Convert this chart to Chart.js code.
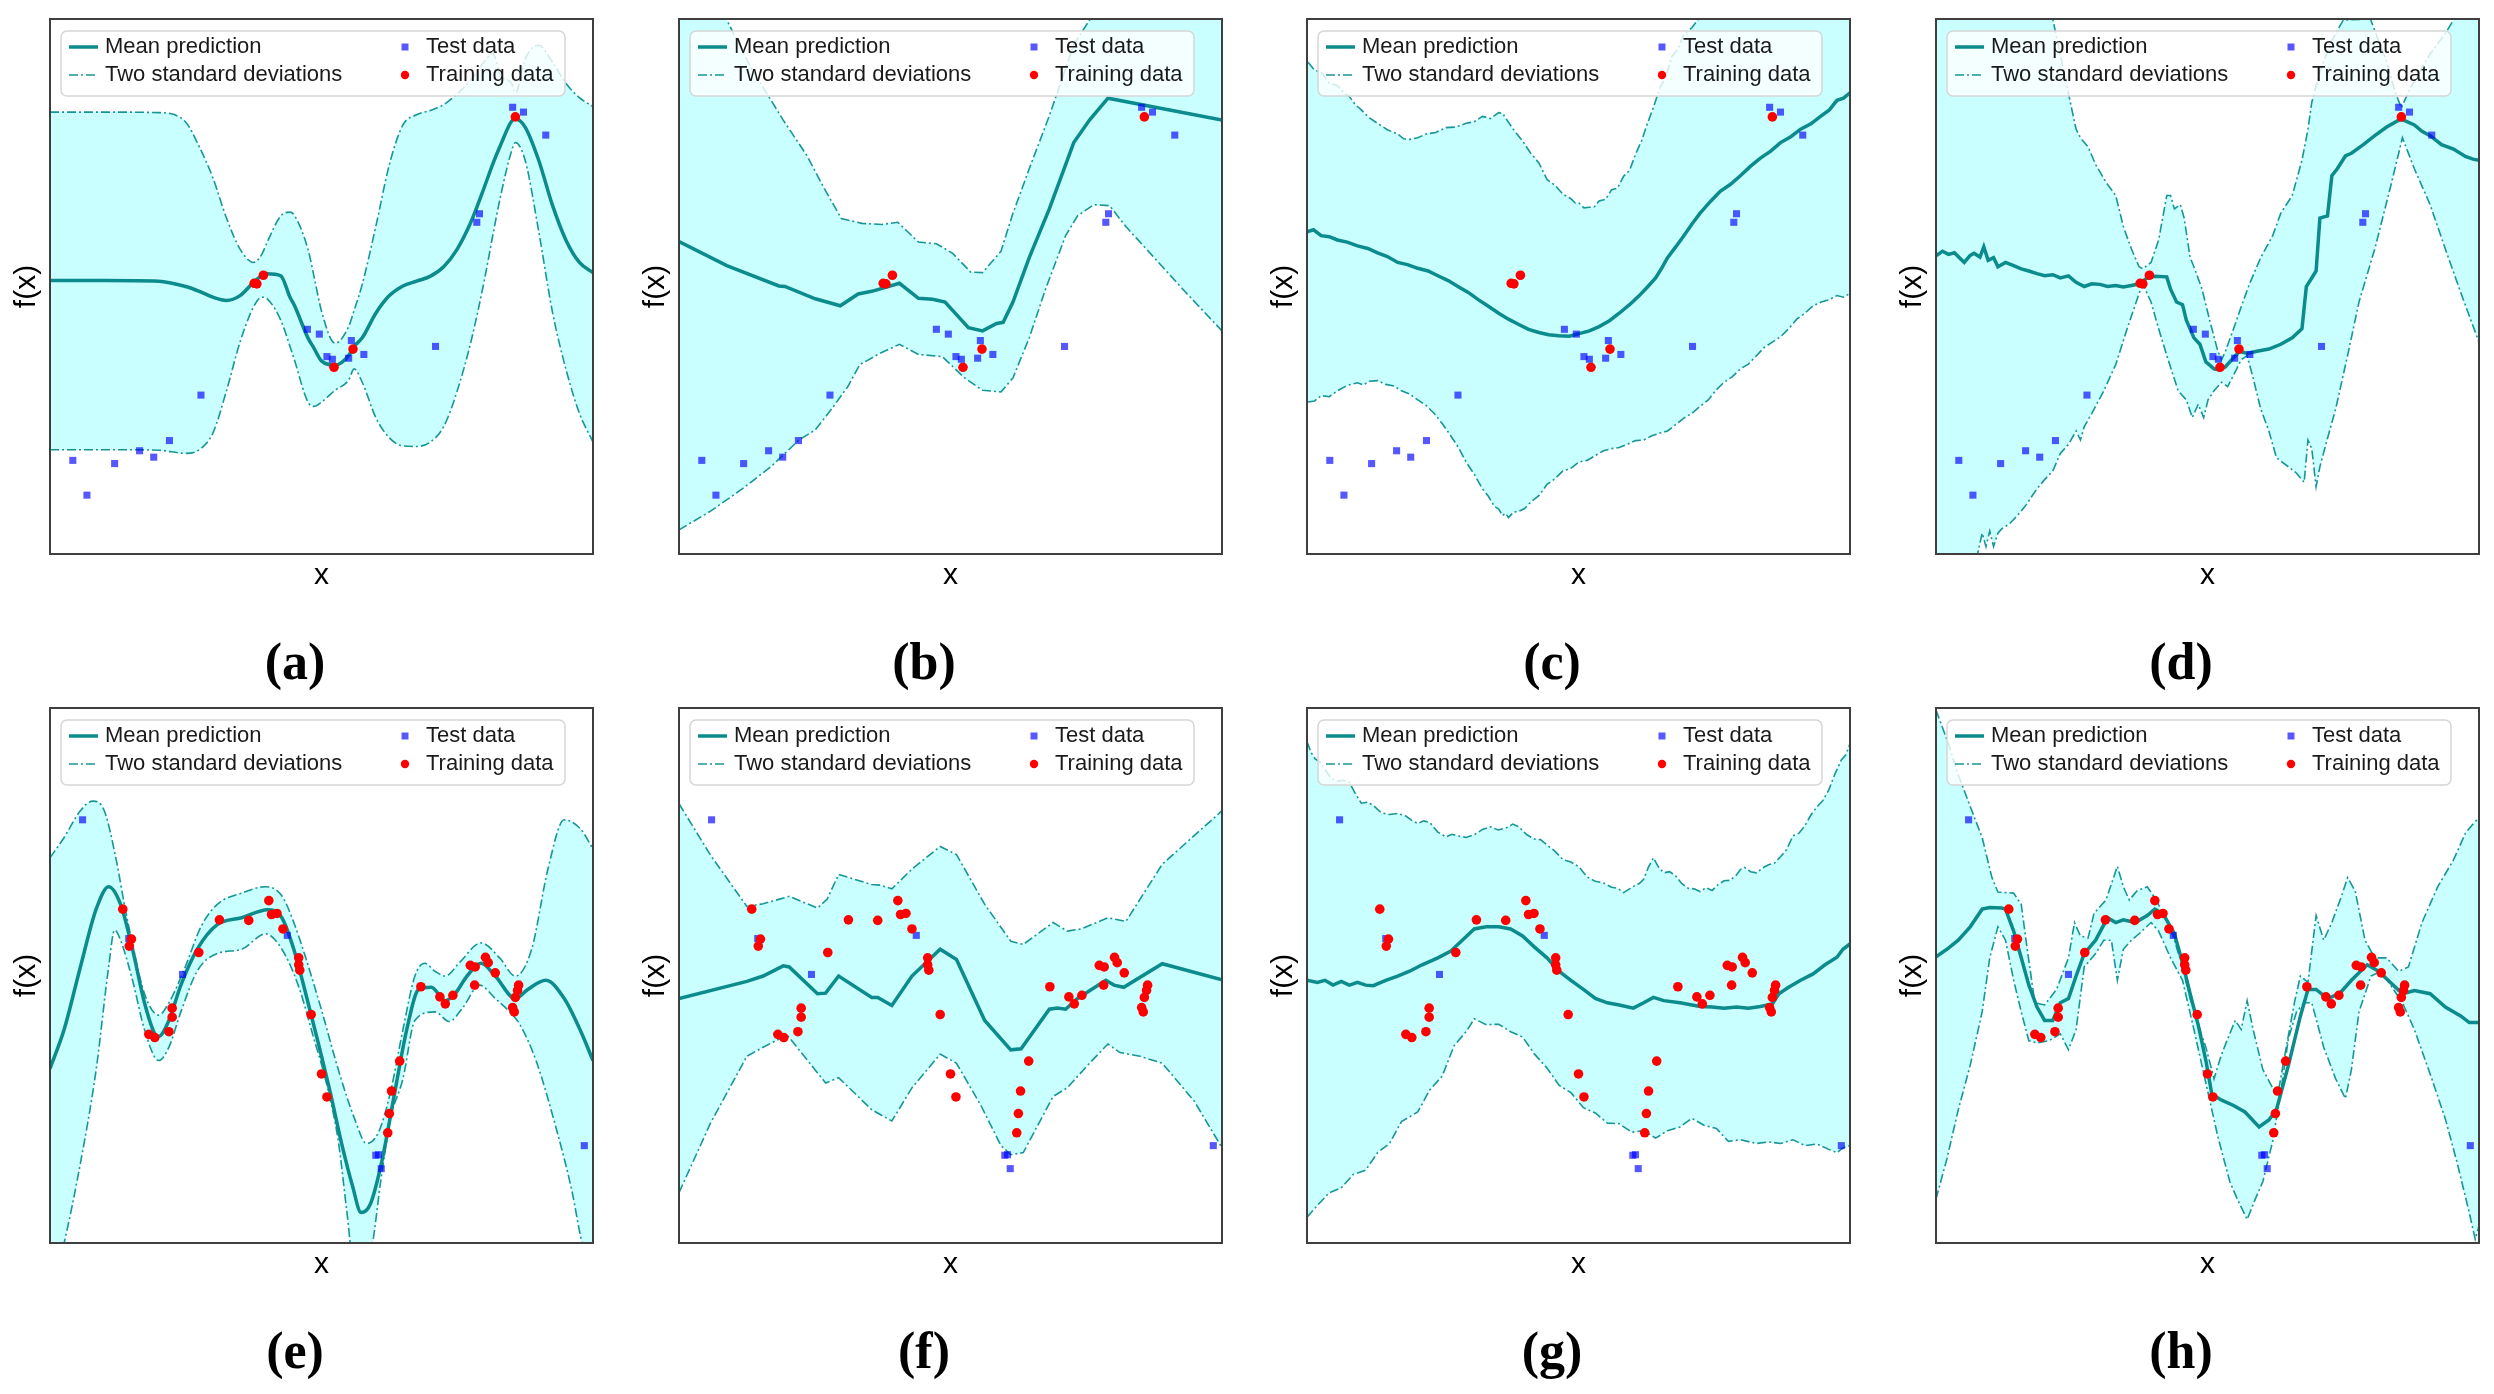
<!DOCTYPE html>
<html>
<head>
<meta charset="utf-8">
<script src="https://cdn.jsdelivr.net/npm/chart.js@4.4.1/dist/chart.umd.min.js"></script>
<style>
html,body{margin:0;padding:0;background:#fff;}
#root{position:relative;width:2494px;height:1394px;overflow:hidden;background:#fff;}
.panel{position:absolute;}
.lbl{position:absolute;font:bold 52px "Liberation Serif","Times New Roman",serif;color:#000;transform:translate(-50%,-50%);white-space:nowrap;line-height:1;}
</style>
</head>
<body>
<div id="root"></div>
<script>
// ---------------- DATA (x and f(x) in plot units 0..100) ----------------
const panelLetters = ['a','b','c','d','e','f','g','h'];
const legendLabels = ['Mean prediction','Two standard deviations','Test data','Training data'];

// shared observations, top row (a-d)
const testTopX = [4.2,6.8,11.9,16.5,19.1,22.0,27.8,47.4,49.6,51.0,52.0,55.0,55.5,57.8,71.0,78.6,79.1,85.2,87.2,91.3];
const testTopY = [17.5,11.0,16.9,19.3,18.1,21.2,29.7,42.0,41.1,36.9,36.4,36.6,39.9,37.3,38.8,62.0,63.6,83.5,82.6,78.3];
const trainTopX = [37.6,38.1,39.3,52.3,55.8,85.7];
const trainTopY = [50.6,50.5,52.1,34.9,38.3,81.7];

// shared observations, bottom row (e-h)
const testBotX = [6.0,14.5,24.4,43.7,60.0,60.5,61.0,98.4];
const testBotY = [79.1,56.9,50.2,57.5,16.4,16.5,13.9,18.2];
const trainBotX = [13.4,15.0,14.6,18.2,19.3,21.9,22.5,22.5,27.4,31.2,36.6,40.3,40.8,41.8,42.9,45.8,45.8,46.0,48.1,50.0,51.0,62.2,62.5,62.9,64.4,68.3,71.8,72.8,74.2,77.4,78.3,78.2,80.2,80.7,82.0,85.2,85.5,85.7,86.1,86.3];
const trainBotY = [62.4,56.8,55.5,39.0,38.4,39.5,43.9,42.2,54.3,60.4,60.3,64.0,61.4,61.6,58.7,53.3,52.0,51.0,42.7,31.6,27.3,20.6,24.2,28.4,34.0,47.9,46.0,44.7,46.3,51.9,51.6,48.2,53.4,52.4,50.5,44.0,43.2,45.9,47.2,48.2];

// (a)
const aX = [0,10,20,25,27.5,30,32.5,35,37.5,39,40,42.5,44.2,45,47.5,48.6,50,52.5,55,56,57.5,60,62.5,65,67.5,70,72.5,75,77.5,80,81.5,83,85,85.7,87.5,90,92.5,95,97.5,100];
const aMean = [51.1,51.1,51.0,50.0,49.1,48.0,47.4,48.3,50.8,52.0,52.4,52.0,48.0,46.5,40.4,38.5,36.1,35.3,37.1,38.8,40.4,45.0,48.3,50.1,51.0,51.9,53.7,57.0,62.0,68.6,72.8,76.5,80.9,81.3,79.8,73.6,65.3,58.7,54.5,52.6];
const aUp = [82.6,82.6,82.5,80.7,76.1,70.3,62.8,57.0,54.5,56.0,58.3,63.2,63.9,63.3,57.0,52.0,45.4,39.4,42.5,45.5,50.4,61.2,72.8,80.2,82.1,82.9,84.0,86.0,88.6,92.0,93.6,89.5,88.0,86.2,92.5,95.1,92.0,88.0,85.3,83.6];
const aLo = [19.5,19.5,19.4,18.8,19.5,22.6,30.5,39.6,46.2,48.0,47.7,43.7,38.8,36.3,28.4,27.6,28.4,30.6,32.5,34.6,32.1,25.5,21.7,20.2,20.1,20.9,23.8,30.5,39.6,51.2,59.3,67.0,75.3,76.9,73.6,60.3,45.4,34.6,26.3,20.9];

// (b)
const bMeanX = [0,8.8,18.4,19.5,25.1,29.7,33.0,35.5,40.6,44.1,46.7,49.0,53.3,55.9,58.5,59.7,61.5,64.5,68.2,72.7,75.6,79.0,100];
const bMeanY = [58.4,53.9,50.1,50.0,47.7,46.4,48.6,49.1,50.6,47.8,47.6,47.1,42.3,41.7,43.1,43.3,47.1,55.4,64.5,76.9,81.1,85.2,81.1];
const bUpX = [0,8.8,13.2,19.2,23.6,26.6,29.9,33.7,37.4,40.3,44.1,47.4,50.4,53.7,55.9,59.3,61.5,64.5,68.2,72.7,75.6,80,100];
const bUpY = [115,99.8,91.0,81.1,74.4,68.6,62.7,61.8,61.6,62.0,58.3,58.0,56.2,52.7,52.6,56.6,63.7,72.0,81.9,95.2,99.8,106,118];
const bLoX = [0,5.8,11.7,16.9,22.1,25.1,28.1,31.1,33.3,37.0,40.6,44.1,48.5,52.6,55.9,59.3,61.5,64.5,67.5,71.2,73.4,76.4,79.3,82.3,87.5,93.5,100];
const bLoY = [4.5,8.0,12.2,16.3,21.3,23.2,27.1,31.3,35.4,37.5,39.2,37.3,36.9,32.9,30.6,30.3,32.9,40.4,49.5,59.5,63.2,65.3,65.1,61.2,55.4,48.7,41.7];

// (c)
const cMeanX = [0,1.2,2.6,4.1,5.6,7.4,9.3,11.2,13.0,14.8,16.7,18.5,20.4,22.3,24.1,26.0,27.8,29.7,31.6,33.4,35.3,37.1,39.0,40.8,42.7,44.5,46.4,48.3,50.1,52.0,53.8,55.7,57.5,59.4,61.2,62.7,64.2,65.3,66.4,67.9,69.4,70.9,72.4,74.3,76.1,78.0,79.8,81.7,83.5,85.4,87.2,89.1,90.9,92.8,94.7,96.2,97.6,98.8,100];
const cMeanY = [60.2,60.6,59.5,59.3,58.7,58.3,57.6,57.1,56.3,55.6,54.5,54.1,53.4,52.9,52.0,51.1,50.0,48.9,47.5,46.3,45.0,43.9,42.9,42.0,41.4,41.0,40.8,40.7,41.2,41.7,42.5,43.6,45.0,46.6,48.3,49.9,51.6,53.4,55.4,57.4,59.5,61.7,63.7,65.9,67.8,69.1,70.7,72.5,74.0,75.3,76.9,78.0,79.4,80.4,81.9,83.0,84.8,85.2,86.2];
const cUpX = [0.2,1.4,2.6,4.1,5.6,6.7,7.8,8.9,10.0,11.5,13.0,14.8,16.7,17.8,18.9,20.4,21.9,23.7,25.6,27.4,29.3,30.8,32.3,33.8,35.3,36.0,36.7,38.2,39.7,41.2,42.7,44.2,45.7,47.1,48.6,49.4,50.1,51.0,52.0,52.9,53.8,55.0,56.1,57.2,58.3,59.4,60.5,61.6,62.7,63.8,65.0,66.1,67.2,68.3,69.4,70.9,72.4,80,100];
const cUpY = [91.9,90.4,90.1,88.0,87.6,86.3,85.5,84.0,83.0,81.5,80.5,79.3,78.5,77.6,77.5,77.8,78.5,78.8,79.7,79.8,80.5,80.8,81.8,81.4,82.5,82.4,81.3,79.1,77.2,74.9,73.1,70.0,68.9,67.3,66.4,65.6,65.6,64.7,64.8,64.9,66.0,66.3,68.1,68.4,70.6,71.7,74.7,77.2,80.5,83.5,87.2,89.3,93.0,94.4,97.1,98.4,100.4,108,120];
const cLoX = [0.2,1.4,2.6,4.1,5.6,7.4,9.3,10.4,11.5,13.0,14.5,16.0,17.4,18.9,20.4,21.9,23.4,24.9,26.4,27.9,29.3,30.8,32.3,33.4,34.5,35.3,36.0,36.6,37.1,38.0,39.0,40.1,41.2,42.7,44.2,45.6,47.1,48.6,50.1,51.6,53.1,54.6,56.1,57.5,59.0,60.5,62.0,63.5,65.0,66.4,67.9,69.4,70.9,72.4,73.9,75.3,76.8,78.3,79.8,81.3,82.8,84.2,85.7,87.2,88.7,90.2,91.7,93.2,94.7,96.1,97.6,98.8,100];
const cLoY = [28.4,28.6,29.6,29.4,30.5,31.5,32.0,31.6,32.3,32.4,31.7,31.4,30.5,29.9,28.8,27.8,26.3,24.4,22.2,19.9,17.2,14.9,12.2,10.8,8.9,8.4,7.2,7.6,6.8,7.8,8.0,8.5,9.7,10.9,13.0,14.0,15.5,16.0,17.2,17.5,18.4,19.3,19.7,19.9,20.5,21.2,21.3,22.1,22.6,23.0,24.2,25.4,26.3,27.6,28.8,30.6,32.1,33.1,34.6,35.5,37.1,38.6,39.6,40.6,42.1,43.9,45.0,46.4,47.1,47.5,48.3,48.0,48.7];

// (d)
const dMeanX = [0.1,1.2,2.3,3.4,4.5,5.2,6.3,7.0,8.1,8.8,9.6,10.6,11.4,12.8,14.3,15.7,17.1,18.6,20.0,21.5,22.9,24.4,25.8,27.3,28.7,30.2,31.6,33.1,34.5,36.0,37.4,38.9,40.3,42.5,43.2,44.3,45.4,46.1,47.5,48.6,49.7,51.2,52.2,53.3,54.8,55.9,57.3,59.1,61.3,63.5,65.6,67.4,68.2,69.2,70.0,70.7,72.1,72.9,73.9,75.4,76.5,78.7,80.8,83.0,85.2,85.9,88.1,89.5,91.0,93.1,95.3,97.5,98.9,100];
const dMeanY = [55.8,56.6,56.0,56.3,55.2,54.5,55.8,56.2,55.5,57.4,54.9,55.4,53.7,54.5,53.9,53.3,52.9,52.4,52.0,52.2,51.6,52.0,50.8,50.0,50.5,50.4,50.0,50.2,49.9,50.2,50.5,51.6,51.9,51.8,49.5,47.1,46.6,43.7,40.4,39.2,35.9,34.6,34.4,35.0,36.7,37.9,37.5,37.9,38.3,39.2,40.4,42.1,50.0,51.6,52.9,62.8,63.2,70.7,72.0,74.4,74.9,76.5,78.2,79.8,81.1,81.2,80.2,79.0,78.2,76.5,75.7,74.3,73.8,73.6];
const dUpX = [0,12,21.5,24.0,25.1,25.8,26.6,28.0,29.4,31.3,33.1,34.5,36.0,37.4,38.1,39.6,41.0,42.5,43.2,43.9,45.0,45.7,46.8,47.5,49.0,50.4,51.9,52.6,53.3,54.8,56.2,57.7,59.8,62.0,63.5,65.6,67.4,68.5,69.2,70.7,72.9,75.0,80.0,83.0,84.5,85.7,87.3,91.0,93.8,95.3,100];
const dUpY = [130,112,100,88,82.7,79.4,77.8,76.1,72.8,69.5,67.0,61.2,57.0,53.7,53.3,54.5,58.7,67.0,67.0,64.5,65.3,62.8,55.4,53.7,49.5,43.7,37.9,36.3,37.9,42.1,46.2,50.4,55.4,59.5,63.7,67.0,73.6,79.4,84.4,90.2,96.0,99.8,100,92,86.5,83.4,87,93.5,97.3,99.8,106];
const dLoX = [0,5,7.7,8.5,9.2,9.9,10.6,11.4,12.1,13.5,15.0,16.4,18.6,20.0,21.5,22.9,24.4,25.8,26.6,27.3,28.7,30.9,33.1,35.2,37.4,38.1,39.6,41.0,42.5,44.6,46.1,47.2,48.3,49.3,50.1,51.2,52.6,53.7,54.8,56.2,57.3,58.4,59.8,61.3,62.7,64.9,66.4,67.8,68.5,69.2,70.0,70.7,71.8,73.6,75.8,77.9,80.8,83.7,85.9,88.1,91.0,93.8,96.7,100];
const dLoY = [-15,-5,0.2,3.9,1.4,4.3,1.4,3.9,4.7,5.6,7.2,8.9,12.2,13.9,15.5,18.8,20.5,23.0,21.3,23.8,26.3,30.5,35.4,42.1,48.7,50.4,47.1,42.1,37.1,30.5,28.8,25.5,28.0,25.5,28.8,30.5,32.1,31.3,33.4,36.3,37.1,32.9,27.1,23.0,18.0,16.3,15.1,13.4,21.3,19.7,12.6,16.3,20.5,27.1,37.1,47.1,57.0,68.6,77.8,72.0,65.3,57.0,48.7,39.6];

// (e)
const eMeanX = [0,2.6,5.6,8.5,10.8,13.0,15.2,17.4,19.3,20.0,21.9,24.1,27.1,30.8,35.3,40.1,42.7,44.9,47.1,49.4,51.6,53.8,55.7,57.3,59.0,61.2,63.5,65.7,67.9,70.2,72.8,74.6,76.8,79.4,82.0,85.7,88.0,91.3,94.7,97.6,100];
const eMeanY = [32.6,39.9,51.6,62.4,66.6,63.3,54.9,44.9,39.1,38.6,41.6,48.2,54.9,59.5,60.8,62.3,60.8,54.9,46.6,37.4,28.2,18.2,10.7,5.7,7.3,15.7,28.2,39.9,47.4,47.8,45.3,46.6,49.9,52.3,49.9,45.7,47.4,49.1,45.7,39.9,34.1];
const eUpX = [0,2.6,5.6,7.9,10.0,12.2,13.7,15.2,17.4,20.0,21.9,24.9,27.8,30.8,35.3,39.7,42.7,44.9,47.1,50.1,53.1,56.1,58.3,60.5,62.7,65.0,67.2,69.0,70.9,72.8,75.4,79.4,82.8,85.7,88.7,91.7,94.7,97.6,100];
const eUpY = [72.0,75.8,80.8,82.6,80.8,71.6,63.3,55.8,46.6,42.6,44.9,51.6,59.1,63.3,65.4,66.6,64.9,59.9,53.3,43.2,32.4,23.2,18.6,20.7,28.2,39.9,49.9,52.3,50.8,49.9,52.4,56.1,53.3,49.9,54.9,69.9,79.1,77.5,73.7];
const eLoX = [0,2.6,5.6,8.5,10.8,11.9,13.0,15.2,17.4,20.0,21.9,24.1,27.1,30.8,35.3,39.7,42.7,45.7,48.6,50.9,53.1,54.6,56.1,57.9,59.4,60.9,62.7,65.0,67.2,70.9,73.5,76.1,79.1,82.0,85.4,86.5,89.5,93.2,96.1,98.0,100];
const eLoY = [-10,0,14.9,32.4,51.6,58.5,56.6,49.1,39.9,34.1,36.6,43.2,50.8,54.1,54.9,57.8,54.9,48.2,38.2,29.9,19.0,6.5,-5,-5,0,11.5,23.2,30.7,41.6,43.2,41.4,44.1,48.2,45.7,42.4,40.9,34.1,21.5,9.8,0,-5];

// (f)
const fMeanX = [0,12.5,15.5,19.2,20.3,25.5,27.0,29.4,35.5,36.6,39.2,42.9,48.1,51.1,56.3,61.1,63.0,68.2,69.7,71.2,73.4,78.6,80.1,81.9,89.0,100];
const fMeanY = [45.7,48.9,49.9,51.8,51.6,46.6,46.7,49.9,45.9,45.9,44.4,49.9,54.9,53.0,41.6,36.1,36.3,43.7,43.9,43.7,45.7,49.1,48.2,47.8,52.2,49.2];
const fUpX = [0,5.8,12.5,15.5,20.3,25.5,27.3,29.4,35.5,37.0,39.2,42.9,48.1,51.1,56.3,61.1,63.4,68.9,71.5,74.1,79.0,82.3,89.0,100];
const fUpY = [82.1,72.5,62.9,63.4,64.8,62.6,64.3,68.9,67.0,66.9,66.2,69.9,74.1,72.6,63.3,56.4,55.8,59.9,58.3,58.7,60.8,60.1,70.8,80.8];
const fLoX = [0,5.8,12.5,15.5,19.9,27.0,29.4,35.5,39.2,42.9,48.1,51.1,55.6,59.3,61.1,63.4,68.9,71.5,75.6,79.0,81.2,84.9,89.0,94.9,100];
const fLoY = [9.4,22.4,34.9,36.6,38.9,29.9,30.9,24.9,22.8,29.0,35.3,33.6,25.7,18.2,16.5,16.9,27.4,29.0,33.6,37.2,35.6,34.9,33.6,26.5,17.8];

// (g)
const gMeanX = [0,1.9,3.3,4.8,6.3,7.8,9.3,10.8,12.2,14.5,16.7,18.9,21.2,24.1,26.4,28.6,30.8,33.0,35.3,37.5,39.7,41.9,44.2,46.4,48.6,50.9,53.1,55.3,57.5,60.1,62.0,63.8,65.7,68.7,70.9,72.4,74.6,76.8,79.1,81.3,83.5,85.7,86.9,88.7,90.9,93.2,95.4,97.6,98.7,100];
const gMeanY = [49.1,48.7,49.1,48.2,48.9,48.2,48.7,48.2,48.1,49.1,49.9,50.8,52.0,53.3,54.5,56.6,58.7,59.1,59.1,58.7,57.4,55.3,53.3,50.8,49.1,47.4,45.7,44.9,44.5,43.9,44.9,45.9,45.3,44.9,44.5,44.2,44.1,43.9,44.1,43.9,44.2,44.7,46.6,47.8,49.1,50.3,52.0,53.4,54.9,55.9];
const gUpX = [0,0.8,1.5,2.4,3.3,4.4,5.6,6.7,7.8,8.9,10.0,11.1,12.2,13.7,15.2,16.7,18.2,19.3,20.4,21.5,22.6,24.1,25.6,26.7,27.8,29.3,30.8,32.3,33.8,35.2,36.7,37.9,39.0,40.5,41.9,43.0,44.2,45.6,47.1,48.6,50.1,51.6,53.1,54.6,56.1,57.2,58.3,59.4,60.5,61.2,62.0,62.9,63.8,64.7,65.7,66.8,67.9,69.0,70.2,71.3,72.4,73.5,74.6,75.7,76.8,77.9,79.1,79.8,80.6,81.7,82.8,83.9,85.0,86.1,87.2,88.3,89.5,90.6,91.7,92.8,93.9,95.0,96.1,97.2,98.4,99.2,100];
const gUpY = [93.7,91.6,90.5,89.9,88.6,86.9,86.3,86.5,86.1,84.0,82.2,82.4,81.8,80.4,80.1,80.3,79.8,79.0,78.4,78.9,78.6,76.8,75.9,76.4,76.1,75.8,76.3,77.3,77.8,77.2,77.6,78.3,77.8,76.3,75.5,75.4,74.4,73.3,71.7,71.2,70.3,68.4,67.6,67.3,66.5,66.3,65.5,66.2,66.9,67.2,68.0,70.3,72.0,70.3,69.2,69.4,68.6,67.2,66.3,66.2,65.7,66.4,65.9,67.0,67.7,67.8,68.8,69.8,70.2,69.4,69.2,70.1,70.7,71.0,72.2,73.5,76.1,76.6,78.0,80.0,81.5,82.7,84.7,87.6,90.3,91.2,93.3];
const gLoX = [0,1.9,4.1,6.3,8.5,10.8,13.0,15.2,17.4,20.4,22.6,24.9,27.1,29.3,30.8,33.0,35.3,37.5,39.7,41.9,44.2,46.4,48.6,50.9,53.1,55.3,57.5,59.8,62.0,64.2,66.4,68.7,70.9,73.1,75.4,77.6,79.8,82.8,85.0,87.2,89.5,91.7,93.9,96.1,97.6,98.7,100];
const gLoY = [4.8,7.0,9.4,10.3,12.8,13.6,16.9,18.6,22.7,24.5,28.6,31.2,36.9,39.5,41.9,40.8,40.9,39.5,38.5,35.3,32.7,29.5,28.1,25.3,24.3,22.4,22.3,20.7,21.0,19.6,21.0,21.7,23.3,22.0,21.4,19.0,19.3,18.6,18.9,18.6,19.3,18.2,18.5,17.5,16.9,17.8,18.2];

// (h)
const hMeanX = [0,2.0,4.1,6.3,8.5,9.9,12.1,12.8,14.3,15.7,17.1,18.6,20.0,21.5,22.9,24.4,25.8,27.3,29.4,31.6,33.1,34.5,36.7,38.9,40.3,41.8,43.9,45.4,46.8,48.3,49.7,50.8,52.6,54.8,56.9,59.5,61.3,62.7,64.9,67.1,68.5,70.0,72.1,74.3,76.5,79.4,81.5,83.7,85.9,88.1,91.0,93.8,96.7,98.2,100];
const hMeanY = [53.5,54.9,56.6,59.1,62.4,62.7,62.6,62.4,58.3,53.3,48.2,44.1,41.6,41.6,44.9,45.7,49.9,54.1,56.6,60.8,59.9,60.4,59.9,61.2,62.4,61.6,57.8,52.4,46.6,40.7,34.1,27.8,26.7,25.7,24.5,21.7,23.0,24.9,33.2,42.4,47.4,47.4,45.7,46.6,49.1,52.0,50.8,48.7,46.6,47.2,46.6,44.1,42.4,41.2,41.2];
const hUpX = [0,2.3,4.1,6.3,8.5,10.3,11.4,14.3,15.7,16.8,18.2,20.0,22.2,24.4,25.5,26.6,28.0,29.1,31.3,33.4,34.5,35.6,37.0,38.9,40.3,42.5,43.9,45.4,46.8,48.3,49.7,51.2,52.6,54.1,55.1,56.2,57.3,58.4,60.2,62.0,63.1,64.5,66.0,67.1,68.5,70.0,71.4,72.9,74.7,75.8,77.2,79.0,80.8,83.0,85.2,87.0,89.5,92.4,95.3,97.5,98.9,100];
const hUpY = [99.6,93.3,87.5,81.6,75.8,68.3,65.6,65.4,63.3,54.9,44.9,44.5,47.4,53.3,59.9,57.4,57.0,61.6,64.1,70.4,66.6,64.1,65.8,66.6,64.5,60.4,56.6,51.6,45.7,40.7,36.6,30.7,35.3,39.1,41.6,39.9,45.3,39.9,32.4,29.0,28.6,36.6,44.9,49.9,48.7,61.2,56.6,59.9,64.9,68.3,65.8,56.6,53.3,53.3,50.8,51.6,59.9,66.6,71.6,76.6,78.3,79.5];
const hLoX = [0,2.0,4.1,6.3,8.5,9.9,11.4,12.8,14.3,15.7,17.1,18.6,20.8,22.9,24.4,25.8,27.3,29.4,30.9,32.3,33.4,34.5,36.0,37.4,39.6,41.0,43.2,45.4,47.5,49.7,51.9,54.1,55.5,57.3,58.8,60.2,62.0,63.5,64.9,66.4,67.8,69.2,71.4,73.6,75.4,76.5,77.9,80.1,82.0,83.7,85.9,88.1,91.0,93.8,96.0,98.2,99.3,100];
const hLoY = [8.2,15.7,24.9,33.2,43.2,53.3,59.1,56.6,49.1,43.2,37.8,37.4,37.8,39.1,36.1,39.9,51.6,54.1,56.6,56.6,49.1,54.9,56.6,57.8,59.9,58.3,53.3,49.1,39.9,29.9,19.9,11.5,8.2,4.4,8.2,11.5,19.0,28.2,38.2,43.2,44.9,44.9,36.6,30.7,27.0,32.4,43.2,49.9,50.8,48.2,44.9,39.9,31.6,23.2,14.9,5.7,0.7,3.2];

// ---------------- STYLE ----------------
const MEAN_COLOR = '#0b8b8b';
const STD_COLOR = 'rgba(0,139,139,0.9)';
const FILL_COLOR = '#c9ffff';
const TEST_COLOR = 'rgba(0,0,255,0.66)';
const TRAIN_COLOR = '#ff0000';
const STD_DASH = [9,3,2,3];
const FONT = '"Liberation Sans", Arial, Helvetica, sans-serif';
const colLeft = [50,679,1307,1936];
const rowTop = [19,708];
const FW = 543, FH = 535;
const PAD = 4, YAXW = 38, XAXH = 37;

Chart.defaults.font.family = FONT;

function pts(xs, ys){
  const n = Math.min(xs.length, ys.length);
  const out = [];
  for (let i = 0; i < n; i++) out.push({x: xs[i], y: ys[i]});
  return out;
}

const panels = [
  {mean:[aX,aMean], up:[aX,aUp], lo:[aX,aLo], test:[testTopX,testTopY], train:[trainTopX,trainTopY], smooth:true},
  {mean:[bMeanX,bMeanY], up:[bUpX,bUpY], lo:[bLoX,bLoY], test:[testTopX,testTopY], train:[trainTopX,trainTopY], smooth:false},
  {mean:[cMeanX,cMeanY], up:[cUpX,cUpY], lo:[cLoX,cLoY], test:[testTopX,testTopY], train:[trainTopX,trainTopY], smooth:false},
  {mean:[dMeanX,dMeanY], up:[dUpX,dUpY], lo:[dLoX,dLoY], test:[testTopX,testTopY], train:[trainTopX,trainTopY], smooth:false},
  {mean:[eMeanX,eMeanY], up:[eUpX,eUpY], lo:[eLoX,eLoY], test:[testBotX,testBotY], train:[trainBotX,trainBotY], smooth:true},
  {mean:[fMeanX,fMeanY], up:[fUpX,fUpY], lo:[fLoX,fLoY], test:[testBotX,testBotY], train:[trainBotX,trainBotY], smooth:false},
  {mean:[gMeanX,gMeanY], up:[gUpX,gUpY], lo:[gLoX,gLoY], test:[testBotX,testBotY], train:[trainBotX,trainBotY], smooth:false},
  {mean:[hMeanX,hMeanY], up:[hUpX,hUpY], lo:[hLoX,hLoY], test:[testBotX,testBotY], train:[trainBotX,trainBotY], smooth:false}
];

const framePlugin = {
  id: 'frame',
  afterDatasetsDraw(chart){
    const {ctx, chartArea: a} = chart;
    ctx.save();
    ctx.strokeStyle = '#3f3f3f';
    ctx.lineWidth = 2;
    ctx.strokeRect(a.left, a.top, a.right - a.left, a.bottom - a.top);
    ctx.restore();
  }
};

const legendPlugin = {
  id: 'gpLegend',
  afterDraw(chart){
    const {ctx, chartArea: a} = chart;
    const L = a.left, T = a.top;
    ctx.save();
    const bx = L + 11, by = T + 12, bw = 504, bh = 65;
    ctx.beginPath();
    if (ctx.roundRect) ctx.roundRect(bx, by, bw, bh, 6); else ctx.rect(bx, by, bw, bh);
    ctx.fillStyle = 'rgba(255,255,255,0.8)';
    ctx.fill();
    ctx.strokeStyle = '#d6d6d6';
    ctx.lineWidth = 1.5;
    ctx.stroke();
    const r1 = T + 28, r2 = T + 56;
    ctx.lineCap = 'butt';
    ctx.strokeStyle = MEAN_COLOR; ctx.lineWidth = 3.5;
    ctx.beginPath(); ctx.moveTo(L + 19, r1); ctx.lineTo(L + 48, r1); ctx.stroke();
    ctx.strokeStyle = STD_COLOR; ctx.lineWidth = 1.6; ctx.setLineDash(STD_DASH);
    ctx.beginPath(); ctx.moveTo(L + 19, r2); ctx.lineTo(L + 48, r2); ctx.stroke();
    ctx.setLineDash([]);
    ctx.fillStyle = TEST_COLOR;
    ctx.fillRect(L + 355 - 3.5, r1 - 3.5, 7, 7);
    ctx.fillStyle = TRAIN_COLOR;
    ctx.beginPath(); ctx.arc(L + 355, r2, 4.2, 0, Math.PI * 2); ctx.fill();
    ctx.fillStyle = '#1a1a1a';
    ctx.font = '22px ' + FONT;
    ctx.textBaseline = 'middle';
    ctx.textAlign = 'left';
    ctx.fillText(legendLabels[0], L + 55, r1);
    ctx.fillText(legendLabels[1], L + 55, r2);
    ctx.fillText(legendLabels[2], L + 376, r1);
    ctx.fillText(legendLabels[3], L + 376, r2);
    ctx.restore();
  }
};

const root = document.getElementById('root');
panels.forEach((p, i) => {
  const col = i % 4, row = Math.floor(i / 4);
  const fl = colLeft[col], ft = rowTop[row];
  const cw = PAD + YAXW + FW + PAD, ch = PAD + FH + XAXH + PAD;
  const div = document.createElement('div');
  div.className = 'panel';
  div.style.left = (fl - PAD - YAXW) + 'px';
  div.style.top = (ft - PAD) + 'px';
  div.style.width = cw + 'px';
  div.style.height = ch + 'px';
  const cv = document.createElement('canvas');
  cv.width = cw; cv.height = ch;
  cv.style.width = cw + 'px'; cv.style.height = ch + 'px';
  div.appendChild(cv);
  root.appendChild(div);

  const lbl = document.createElement('div');
  lbl.className = 'lbl';
  lbl.textContent = '(' + panelLetters[i] + ')';
  lbl.style.left = (fl + 245) + 'px';
  lbl.style.top = (ft + 643) + 'px';
  root.appendChild(lbl);

  const lineCommon = {
    pointRadius: 0,
    tension: p.smooth ? 0.4 : 0,
    cubicInterpolationMode: p.smooth ? 'monotone' : 'default',
    capBezierPoints: false
  };
  new Chart(cv, {
    type: 'line',
    data: {
      datasets: [
        Object.assign({label: legendLabels[0], data: pts(p.mean[0], p.mean[1]), borderColor: MEAN_COLOR, borderWidth: 3.5, fill: false, order: 2}, lineCommon),
        Object.assign({label: legendLabels[1], data: pts(p.up[0], p.up[1]), borderColor: STD_COLOR, borderWidth: 1.6, borderDash: STD_DASH, fill: '+1', backgroundColor: FILL_COLOR, order: 3}, lineCommon),
        Object.assign({label: legendLabels[1] + ' (lower)', data: pts(p.lo[0], p.lo[1]), borderColor: STD_COLOR, borderWidth: 1.6, borderDash: STD_DASH, fill: false, order: 4}, lineCommon),
        {type: 'scatter', label: legendLabels[2], data: pts(p.test[0], p.test[1]), pointStyle: 'rect', pointRadius: 5, backgroundColor: TEST_COLOR, borderWidth: 0, order: 1},
        {type: 'scatter', label: legendLabels[3], data: pts(p.train[0], p.train[1]), pointStyle: 'circle', pointRadius: 4.8, backgroundColor: TRAIN_COLOR, borderWidth: 0, order: 0}
      ]
    },
    options: {
      responsive: false,
      animation: false,
      devicePixelRatio: 1,
      events: [],
      layout: {padding: PAD, autoPadding: false},
      scales: {
        x: {
          type: 'linear', min: 0, max: 100,
          grid: {display: false, drawTicks: false},
          ticks: {display: false},
          border: {display: false},
          title: {display: true, text: 'x', color: '#000', font: {family: FONT, size: 30, lineHeight: 1}, padding: {top: 7, bottom: 0}}
        },
        y: {
          type: 'linear', min: 0, max: 100,
          grid: {display: false, drawTicks: false},
          ticks: {display: false},
          border: {display: false},
          title: {display: true, text: 'f(x)', color: '#000', font: {family: FONT, size: 30, lineHeight: 1}, padding: {top: 0, bottom: 8}}
        }
      },
      plugins: {
        legend: {display: false},
        tooltip: {enabled: false},
        filler: {drawTime: 'beforeDatasetsDraw', propagate: false}
      }
    },
    plugins: [framePlugin, legendPlugin]
  });
});
</script>
</body>
</html>
